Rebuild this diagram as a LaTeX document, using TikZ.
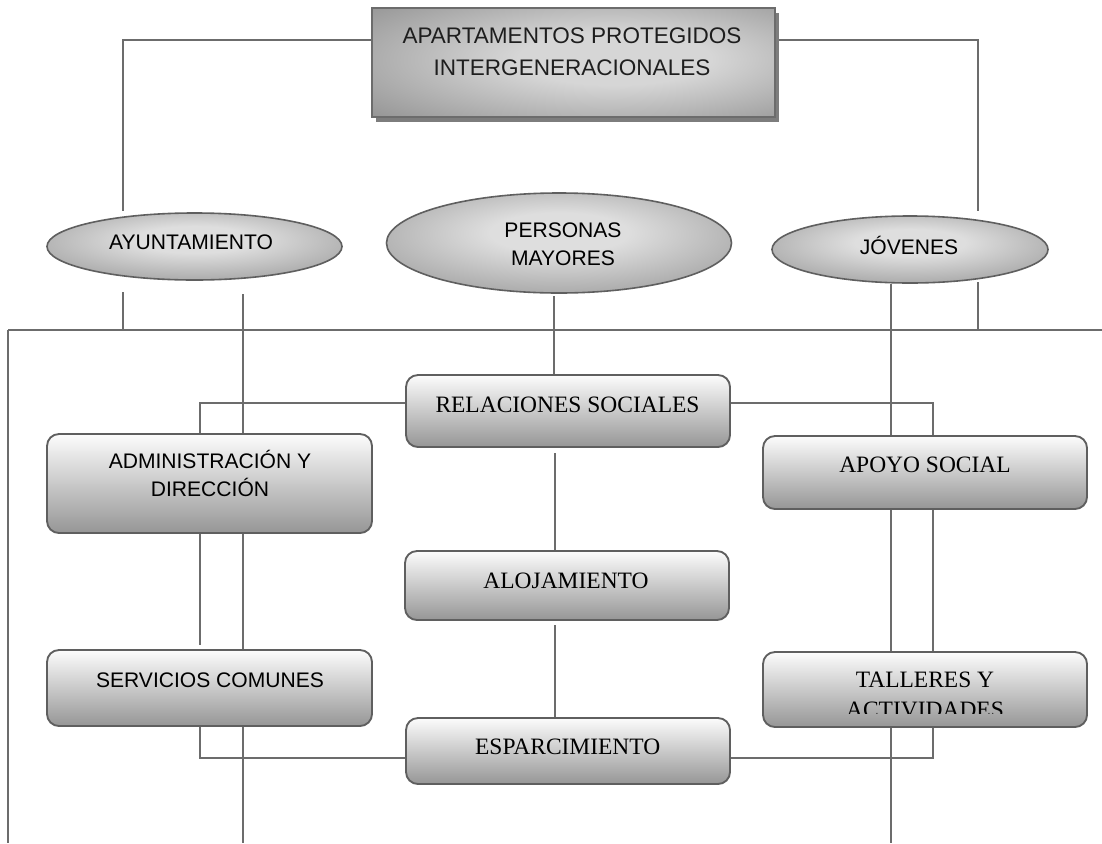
\documentclass[tikz,border=0pt]{standalone}
\usepackage{fontspec}
\setmainfont{Liberation Serif}
\newfontfamily\arialf{Liberation Sans}
\usetikzlibrary{fit,shapes.geometric,shadows}
\pgfdeclarelayer{bg}
\pgfsetlayers{bg,main}
\definecolor{wirec}{RGB}{108,108,108}
\definecolor{edgec}{RGB}{95,95,95}
\definecolor{btop}{RGB}{252,252,252}
\definecolor{bbot}{RGB}{150,150,150}
\definecolor{elin}{RGB}{222,222,222}
\definecolor{elout}{RGB}{120,120,120}
\definecolor{tin}{RGB}{214,214,214}
\definecolor{tmid}{RGB}{150,150,150}
\definecolor{tout}{RGB}{95,95,95}
\definecolor{shadowc}{RGB}{125,125,125}
\definecolor{toptxt}{RGB}{30,30,30}
\pgfdeclareradialshading{tshade}{\pgfpoint{6bp}{2bp}}{color(0bp)=(tin); color(12bp)=(tin); color(38bp)=(tmid); color(62bp)=(tout); color(80bp)=(tout)}
\pgfdeclareradialshading{eshade}{\pgfpoint{0bp}{6bp}}{color(0bp)=(elin); color(10bp)=(elin); color(48bp)=(elout); color(75bp)=(elout)}
\begin{document}
\begin{tikzpicture}[x=0.75pt,y=-0.75pt,
  wire/.style={draw=wirec,line width=1.5pt},
  rbox/.style={draw=edgec,line width=1.4pt,rounded corners=9pt,top color=btop,bottom color=bbot,inner sep=0pt},
  ell/.style={ellipse,draw=edgec,line width=1.2pt,shading=eshade,inner sep=0pt},
  topbox/.style={draw=wirec,line width=1.1pt,shading=tshade,inner sep=0pt,
    drop shadow={shadow xshift=3pt,shadow yshift=-3.5pt,fill=shadowc,opacity=1}},
  toptext/.style={font=\arialf\fontsize{16.9}{24}\selectfont,text=toptxt,inner sep=0pt,align=center},
  sanslab/.style={font=\arialf\fontsize{15.8}{21}\selectfont,inner sep=0pt,align=center},
  seriflab/.style={font=\fontsize{17.6}{22}\selectfont,inner sep=0pt,align=center},
]
\useasboundingbox (0,0) rectangle (1102,843);
\begin{pgfonlayer}{bg}
  \fill[white] (0,0) rectangle (1102,843);
\end{pgfonlayer}

% ---- shapes ----
\node[topbox,fit={(372,8) (775,117)}] (top) {};
\node[ell,minimum width=221.25pt,minimum height=50.25pt] (ayto) at (194.5,246.5) {};
\node[ell,minimum width=258.75pt,minimum height=75pt] (pers) at (559,243) {};
\node[ell,minimum width=207pt,minimum height=50.25pt] (jov) at (910,249.5) {};
\node[rbox,fit={(406,375) (730,447)}] (rel) {};
\node[rbox,fit={(47,434) (372,533)}] (admin) {};
\node[rbox,fit={(763,436) (1087,509)}] (apoyo) {};
\node[rbox,fit={(405,551) (729,620)}] (alo) {};
\node[rbox,fit={(47,650) (372,726)}] (serv) {};
\node[rbox,fit={(763,652) (1087,727)}] (tall) {};
\node[rbox,fit={(406,718) (730,784)}] (esp) {};

% ---- texts ----
\node[toptext] (ttop) at (572,51.5) {APARTAMENTOS PROTEGIDOS\\INTERGENERACIONALES};
\node[sanslab,anchor=base] (tayto) at (191,249.3) {AYUNTAMIENTO};
\node[sanslab] (tpers) at (563,244) {PERSONAS\\MAYORES};
\node[sanslab,anchor=base] (tjov) at (909,254) {JÓVENES};
\node[seriflab,anchor=base] (trel) at (567.5,412) {RELACIONES SOCIALES};
\node[sanslab] (tadmin) at (210,473.5) {ADMINISTRACIÓN Y\\DIRECCIÓN};
\node[seriflab,anchor=base] (tapoyo) at (925,472) {APOYO SOCIAL};
\node[seriflab,anchor=base] (talo) at (566,588) {ALOJAMIENTO};
\node[sanslab,anchor=base] (tserv) at (210,687) {SERVICIOS COMUNES};
\begin{scope}
  \clip (763,652) rectangle (1087,713);
  \node[seriflab] (ttall) at (925,695) {TALLERES Y\\ACTIVIDADES};
\end{scope}
\node[seriflab,anchor=base] (tesp) at (567.7,754) {ESPARCIMIENTO};

% ---- free ends ----
\coordinate (aL) at (123,211);
\coordinate (jR) at (978,211);
\coordinate (bus0) at (8,330);
\coordinate (bus1) at (1102,330);
\coordinate (left0) at (8,843);
\coordinate (a1) at (123,292);
\coordinate (a1b) at (123,330);
\coordinate (a2) at (243,294);
\coordinate (a2b) at (243,843);
\coordinate (p1) at (554,296);
\coordinate (j1) at (891,284);
\coordinate (j1b) at (891,843);
\coordinate (j2) at (978,282);
\coordinate (j2b) at (978,330);
\coordinate (s1) at (200,645);
\coordinate (r1) at (555,453);
\coordinate (r2) at (555,625);

% ---- connectors ----
\begin{pgfonlayer}{bg}
\draw[wire] (top.west |- 0,40) -| (aL);
\draw[wire] (top.east |- 0,40) -| (jR);
\draw[wire] (a1) -- (a1b);
\draw[wire] (bus0) -- (bus1);
\draw[wire] (bus0) -- (left0);
\draw[wire] (a2) -- (a2b);
\draw[wire] (p1) -- (p1 |- rel.north);
\draw[wire] (j1) -- (j1b);
\draw[wire] (j2) -- (j2b);
\draw[wire] (rel.west |- 0,403) -| (200,0 |- admin.north);
\draw[wire] (rel.east |- 0,403) -| (933,0 |- apoyo.north);
\draw[wire] (200,0 |- admin.south) -- (s1);
\draw[wire] (933,0 |- apoyo.south) -- (933,0 |- tall.north);
\draw[wire] (200,0 |- serv.south) |- (esp.west |- 0,758);
\draw[wire] (933,0 |- tall.south) |- (esp.east |- 0,758);
\draw[wire] (r1) -- (r1 |- alo.north);
\draw[wire] (r2) -- (r2 |- esp.north);
\end{pgfonlayer}
\end{tikzpicture}
\end{document}
